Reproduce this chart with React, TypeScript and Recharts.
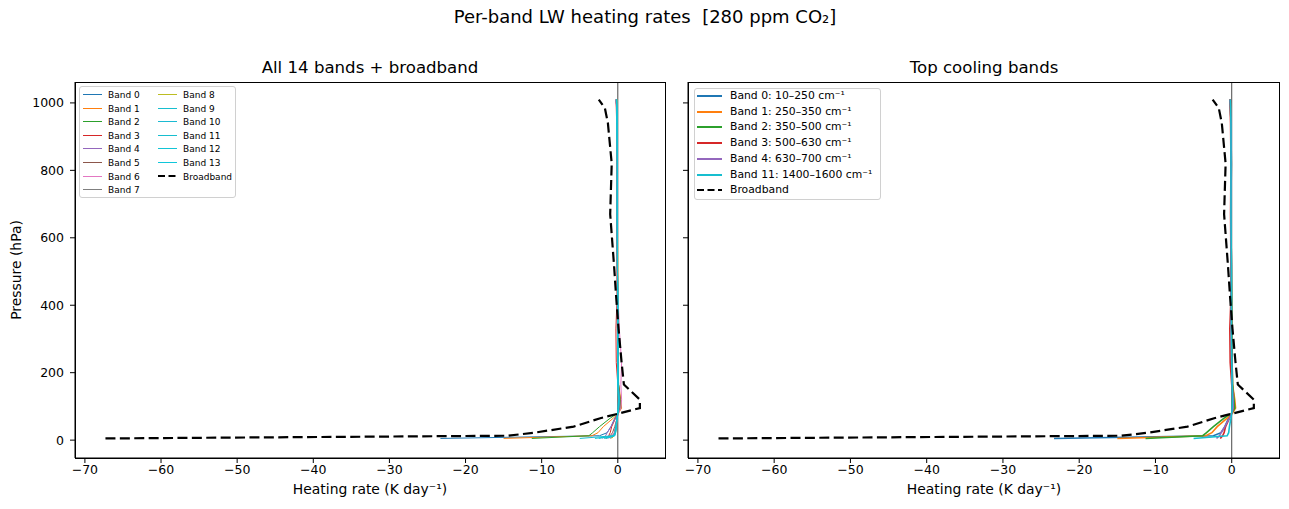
import { LineChart, Line, XAxis, YAxis, ReferenceLine } from "recharts";

// pressure levels (hPa) shared by every profile
const pressure = [5, 13, 22, 40, 65, 80, 95, 120, 165, 230, 330, 420, 520, 670, 820, 940, 985, 1010];

// heating rate (K/day) per band at the levels above
const band0 = [-23.3, -2.4, -1.4, -0.9, -0.4, 0.0, 0.3, 0.3, 0.1, 0.05, 0.0, -0.05, -0.05, -0.1, -0.1, -0.1, -0.15, -0.2];
const band1 = [-15.0, -3.4, -2.6, -1.9, -0.6, 0.1, 0.5, 0.4, 0.1, 0.05, 0.0, -0.05, -0.05, -0.1, -0.1, -0.1, -0.15, -0.2];
const band2 = [-11.3, -3.8, -3.3, -2.4, -1.0, 0.0, 0.4, 0.3, 0.1, 0.05, 0.0, 0.0, -0.05, -0.1, -0.05, -0.1, -0.15, -0.2];
const band3 = [-1.5, -1.2, -1.0, -0.8, -0.3, 0.0, 0.2, 0.2, 0.0, -0.2, -0.25, -0.1, -0.1, -0.15, -0.1, -0.15, -0.2, -0.25];
const band4 = [-2.0, -1.6, -1.4, -0.9, -0.3, 0.0, 0.2, 0.2, 0.05, 0.0, -0.05, -0.05, -0.05, -0.1, -0.05, -0.1, -0.15, -0.2];
const band5 = [-1.6, -1.0, -0.7, -0.4, -0.1, 0.05, 0.3, 0.3, 0.1, 0.1, 0.05, 0.0, -0.05, -0.1, -0.05, -0.1, -0.15, -0.2];
const band6 = [-1.2, -0.8, -0.5, -0.3, -0.1, 0.1, 0.4, 0.5, 0.4, 0.5, 0.2, 0.05, -0.05, -0.1, -0.1, -0.1, -0.15, -0.25];
const band7 = [-1.0, -0.6, -0.4, -0.3, -0.1, 0.05, 0.2, 0.2, 0.05, 0.0, 0.0, 0.0, -0.05, -0.05, -0.05, -0.1, -0.1, -0.15];
const band8 = [-0.8, -0.5, -0.3, -0.2, -0.1, 0.0, 0.1, 0.1, 0.05, 0.05, 0.0, 0.0, 0.0, -0.05, -0.05, -0.05, -0.1, -0.1];
const band9 = [-2.5, -0.5, -0.3, -0.2, -0.1, 0.0, 0.1, 0.2, 0.05, 0.05, 0.05, 0.0, -0.05, -0.1, -0.05, -0.1, -0.15, -0.2];
const band10 = [-1.5, -0.4, -0.3, -0.2, -0.1, 0.0, 0.1, 0.2, 0.05, 0.0, 0.0, 0.0, -0.05, -0.05, -0.05, -0.1, -0.1, -0.15];
const band11 = [-5.0, -0.6, -0.4, -0.3, -0.1, 0.0, 0.05, 0.1, 0.05, 0.0, -0.05, -0.05, -0.05, -0.1, -0.1, -0.1, -0.15, -0.2];
const band12 = [-3.0, -0.5, -0.3, -0.2, -0.1, 0.0, 0.05, 0.1, 0.0, 0.0, 0.0, 0.0, -0.05, -0.05, -0.05, -0.1, -0.1, -0.15];
const band13 = [-1.8, -0.4, -0.3, -0.2, -0.1, 0.0, 0.05, 0.1, 0.0, 0.0, 0.0, 0.0, -0.05, -0.05, -0.05, -0.1, -0.1, -0.15];
const broadband = [-67.3, -14.5, -11.0, -5.8, -2.3, 0.3, 2.9, 2.9, 0.8, 0.5, 0.1, -0.2, -0.5, -1.0, -0.8, -1.3, -1.7, -2.5];

const bands = [band0, band1, band2, band3, band4, band5, band6, band7, band8, band9, band10, band11, band12, band13];
const bandColors = [
  "#1f77b4", "#ff7f0e", "#2ca02c", "#d62728", "#9467bd", "#8c564b", "#e377c2",
  "#7f7f7f", "#bcbd22", "#17becf", "#1bbad2", "#17becf", "#12c4d6", "#10c6da",
];
const topBands = [0, 1, 2, 3, 4, 11];
const topBandLabels = [
  "Band 0: 10–250 cm⁻¹",
  "Band 1: 250–350 cm⁻¹",
  "Band 2: 350–500 cm⁻¹",
  "Band 3: 500–630 cm⁻¹",
  "Band 4: 630–700 cm⁻¹",
  "Band 11: 1400–1600 cm⁻¹",
];
const xTicks = [-70, -60, -50, -40, -30, -20, -10, 0];
const yTicks = [0, 200, 400, 600, 800, 1000];

const rows = pressure.map((p, i) => {
  const r: Record<string, number> = { p, broadband: broadband[i] };
  bands.forEach((b, k) => (r[`b${k}`] = b[i]));
  return r;
});

const FONT = "'DejaVu Sans', sans-serif";
const fmt = (v: number) => (v < 0 ? `−${Math.abs(v)}` : `${v}`);
const tickStyle = { fontSize: 12.5, fill: "#000", fontFamily: FONT };

function Panel({ left, width, yw, show, lw, showY }: any) {
  return (
    <div style={{ position: "absolute", left, top: 0 }}>
      <LineChart
        width={width}
        height={509}
        data={rows}
        layout="vertical"
        margin={{ top: 82, right: width === 680 ? 15 : 10, bottom: 21, left: showY ? 25 : 0 }}
      >
        <XAxis
          type="number"
          domain={[-71.3, 6.2]}
          ticks={xTicks}
          allowDataOverflow
          tickFormatter={fmt}
          height={30}
          tick={tickStyle}
          tickSize={5}
          stroke="#000"
        />
        <YAxis
          type="number"
          dataKey="p"
          domain={[-53, 1062]}
          ticks={yTicks}
          allowDataOverflow
          reversed
          width={yw}
          tick={{ ...tickStyle, dx: -4 }}
          tickFormatter={showY ? (v: number) => `${v}` : () => ""}
          tickSize={5}
          stroke="#000"
        />
        <ReferenceLine x={0} stroke="#333" strokeWidth={0.9} />
        {show.map((k: number) => (
          <Line
            key={k}
            dataKey={`b${k}`}
            stroke={bandColors[k]}
            strokeWidth={lw}
            dot={false}
            type="linear"
            isAnimationActive={false}
          />
        ))}
        <Line
          dataKey="broadband"
          stroke="#000"
          strokeWidth={2.2}
          strokeDasharray="10 4.4"
          dot={false}
          type="linear"
          isAnimationActive={false}
        />
      </LineChart>
    </div>
  );
}

const abs = (x: number, y: number, extra: any = {}) => ({
  position: "absolute" as const,
  left: x,
  top: y,
  fontFamily: FONT,
  color: "#000",
  whiteSpace: "nowrap" as const,
  ...extra,
});

function Sample({ color, w, lw, dashed }: any) {
  const cy = lw % 2 === 1 ? 3.5 : 3;
  return (
    <svg width={w} height={7} style={{ display: "block" }}>
      <line
        x1={0}
        y1={cy}
        x2={w}
        y2={cy}
        stroke={color}
        strokeWidth={lw}
        strokeDasharray={dashed ? "7 3.5" : undefined}
      />
    </svg>
  );
}

export default function App() {
  const leftItems = [
    ...bands.map((_, k) => ({ label: `Band ${k}`, color: bandColors[k], dashed: false })),
    { label: "Broadband", color: "#000", dashed: true },
  ];
  const rightItems = [
    ...topBands.map((k, i) => ({ label: topBandLabels[i], color: bandColors[k], dashed: false })),
    { label: "Broadband", color: "#000", dashed: true },
  ];
  return (
    <div style={{ position: "absolute", left: 0, top: 0, width: 1289, height: 509, background: "#fff", overflow: "hidden" }}>
      <div style={abs(645, 6, { fontSize: 18, transform: "translateX(-50%)" })}>
        Per-band LW heating rates&nbsp;&nbsp;[280 ppm CO₂]
      </div>
      <div style={abs(370, 58, { fontSize: 16.6, transform: "translateX(-50%)" })}>All 14 bands + broadband</div>
      <div style={abs(984, 58, { fontSize: 16.6, transform: "translateX(-50%)" })}>Top cooling bands</div>

      <Panel left={0} width={680} yw={50} show={bands.map((_, k) => k)} lw={1} showY />
      <Panel left={680} width={609} yw={8} show={topBands} lw={1.6} showY={false} />

      <div style={{ position: "absolute", left: 75, top: 82, width: 591, height: 377, border: "1px solid #000", boxSizing: "border-box", pointerEvents: "none" }} />
      <div style={{ position: "absolute", left: 688, top: 82, width: 592, height: 377, border: "1px solid #000", boxSizing: "border-box", pointerEvents: "none" }} />

      <div style={abs(370, 481, { fontSize: 13.9, transform: "translateX(-50%)" })}>Heating rate (K day⁻¹)</div>
      <div style={abs(984, 481, { fontSize: 13.9, transform: "translateX(-50%)" })}>Heating rate (K day⁻¹)</div>
      <div style={abs(16, 270, { fontSize: 13.9, transform: "translate(-50%, -50%) rotate(-90deg)" })}>Pressure (hPa)</div>

      {/* left legend */}
      <div style={{ position: "absolute", left: 79, top: 86, width: 157, height: 112, border: "1px solid #d0d0d0", borderRadius: 3, background: "rgba(255,255,255,0.8)", boxSizing: "border-box" }} />
      {leftItems.map((it, i) => {
        const col = i < 8 ? 0 : 1;
        const row = i < 8 ? i : i - 8;
        const x0 = col === 0 ? 83 : 158;
        const y = Math.round(95 + row * 13.6);
        return (
          <div key={i}>
            <div style={{ position: "absolute", left: x0, top: y - 4 }}>
              <Sample color={it.color} w={19} lw={it.dashed ? 2 : 1} dashed={it.dashed} />
            </div>
            <div style={abs(x0 + 25, y - 6, { fontSize: 9, lineHeight: "12px" })}>{it.label}</div>
          </div>
        );
      })}

      {/* right legend */}
      <div style={{ position: "absolute", left: 694, top: 88, width: 187, height: 112, border: "1px solid #d0d0d0", borderRadius: 3, background: "rgba(255,255,255,0.8)", boxSizing: "border-box" }} />
      {rightItems.map((it, i) => {
        const y = Math.round(96 + i * 15.7);
        return (
          <div key={i}>
            <div style={{ position: "absolute", left: 697, top: y - 3 }}>
              <Sample color={it.color} w={25} lw={2} dashed={it.dashed} />
            </div>
            <div style={abs(730, y - 7, { fontSize: 10.8, lineHeight: "14px" })}>{it.label}</div>
          </div>
        );
      })}
    </div>
  );
}
